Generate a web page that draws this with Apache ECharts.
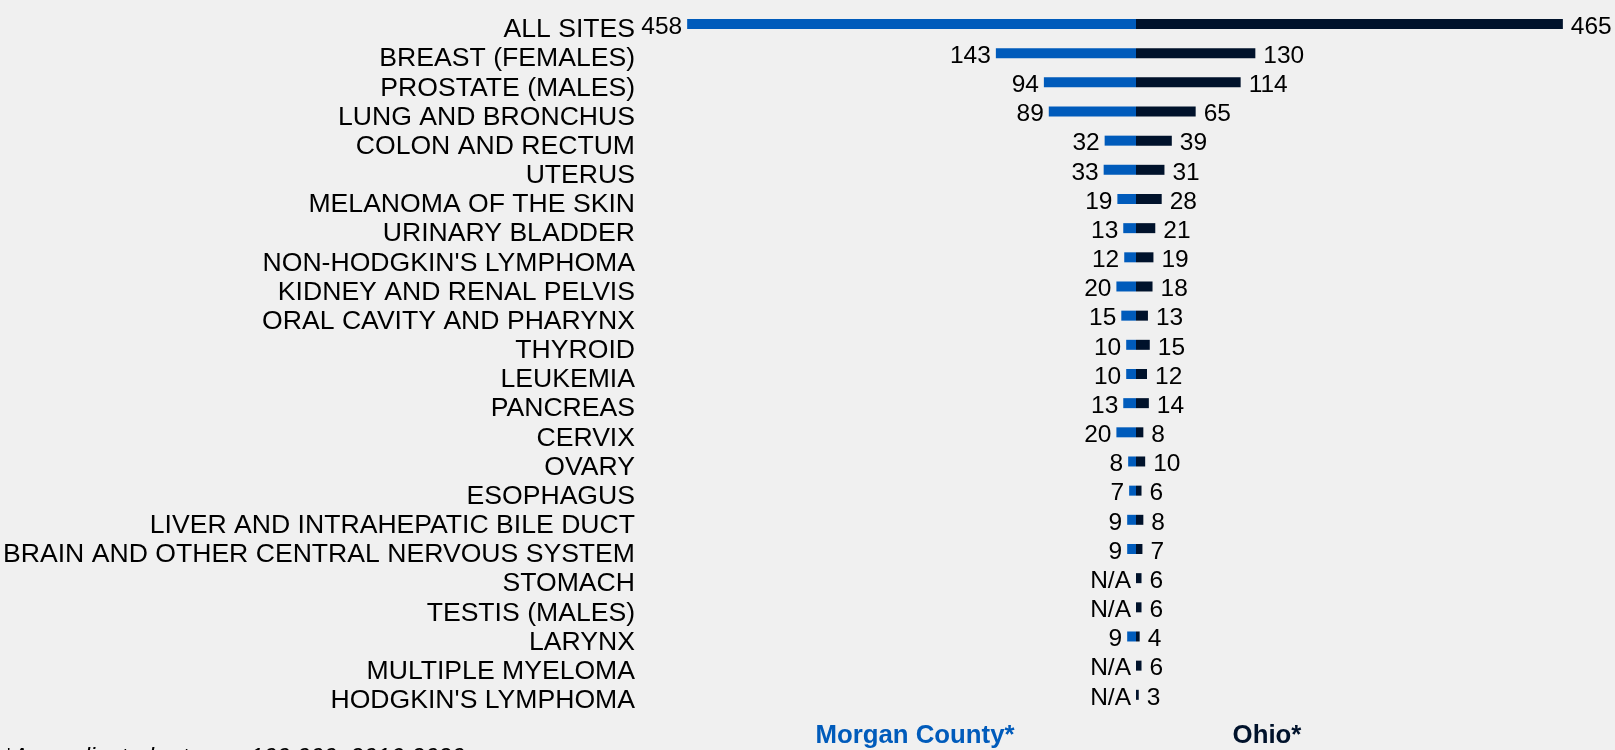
<!DOCTYPE html>
<html>
<head>
<meta charset="utf-8">
<title>Cancer incidence rates: Morgan County vs Ohio</title>
<script src="https://cdn.jsdelivr.net/npm/echarts@6/dist/echarts.min.js"></script>
<style>
  html, body { margin: 0; padding: 0; background: #f0f0f0; }
  #chart { width: 1615px; height: 750px; }
</style>
</head>
<body>
<div id="chart"></div>
<script>
// Cancer sites, top to bottom
const categories = [
  'ALL SITES', 'BREAST (FEMALES)', 'PROSTATE (MALES)', 'LUNG AND BRONCHUS',
  'COLON AND RECTUM', 'UTERUS', 'MELANOMA OF THE SKIN', 'URINARY BLADDER',
  "NON-HODGKIN'S LYMPHOMA", 'KIDNEY AND RENAL PELVIS', 'ORAL CAVITY AND PHARYNX',
  'THYROID', 'LEUKEMIA', 'PANCREAS', 'CERVIX', 'OVARY', 'ESOPHAGUS',
  'LIVER AND INTRAHEPATIC BILE DUCT', 'BRAIN AND OTHER CENTRAL NERVOUS SYSTEM',
  'STOMACH', 'TESTIS (MALES)', 'LARYNX', 'MULTIPLE MYELOMA', "HODGKIN'S LYMPHOMA"
];

// Age-adjusted rates per 100,000 (null = not available)
const morganRates = [458, 143, 94, 89, 32, 33, 19, 13, 12, 20, 15, 10, 10, 13, 20, 8, 7, 9, 9, null, null, 9, null, null];
const ohioRates   = [465, 130, 114, 65, 39, 31, 28, 21, 19, 18, 13, 15, 12, 14, 8, 10, 6, 8, 7, 6, 6, 4, 6, 3];

const seriesNames = ['Morgan County*', 'Ohio*'];
const footnote = '*Age-adjusted rate per 100,000, 2016-2020';

const COUNTY_COLOR = '#005bbb';
const STATE_COLOR = '#00122b';
const FONT = '"Liberation Sans", Arial, sans-serif';

const chart = echarts.init(document.getElementById('chart'));

const valueLabel = {
  show: true,
  fontFamily: FONT,
  fontSize: 24.5,
  color: '#000',
  offset: [0, 3]
};

const morganData = morganRates.map(v =>
  v == null ? { value: 0, label: { formatter: 'N/A' } } : v
);

const option = {
  backgroundColor: '#f0f0f0',
  animation: false,
  grid: [
    { left: 646, width: 490, top: 9.4, height: 700 },
    { left: 1136, width: 459, top: 9.4, height: 700 }
  ],
  xAxis: [
    { gridIndex: 0, type: 'value', min: 0, max: 500, inverse: true, show: false },
    { gridIndex: 1, type: 'value', min: 0, max: 500, show: false }
  ],
  yAxis: [
    {
      gridIndex: 0, type: 'category', data: categories, inverse: true,
      axisLine: { show: false }, axisTick: { show: false },
      axisLabel: {
        interval: 0, margin: 11, fontFamily: FONT, fontSize: 26.6, color: '#000',
        verticalAlign: 'top', lineHeight: 12
      }
    },
    {
      gridIndex: 1, type: 'category', data: categories, inverse: true,
      axisLine: { show: false }, axisTick: { show: false }, axisLabel: { show: false }
    }
  ],
  series: [
    {
      name: seriesNames[0], type: 'bar', xAxisIndex: 0, yAxisIndex: 0,
      data: morganData, barWidth: 10,
      itemStyle: { color: COUNTY_COLOR },
      label: Object.assign({}, valueLabel, { position: 'left', distance: 5 })
    },
    {
      name: seriesNames[1], type: 'bar', xAxisIndex: 1, yAxisIndex: 1,
      data: ohioRates, barWidth: 10,
      itemStyle: { color: STATE_COLOR },
      label: Object.assign({}, valueLabel, { position: 'right', distance: 8 })
    }
  ],
  graphic: [
    {
      type: 'text', x: 915, y: 736,
      style: {
        text: seriesNames[0], fill: COUNTY_COLOR,
        font: 'bold 25.8px ' + FONT, textAlign: 'center', textVerticalAlign: 'middle'
      }
    },
    {
      type: 'text', x: 1267, y: 736,
      style: {
        text: seriesNames[1], fill: STATE_COLOR,
        font: 'bold 25.8px ' + FONT, textAlign: 'center', textVerticalAlign: 'middle'
      }
    },
    {
      type: 'text', x: 3, y: 758,
      style: {
        text: footnote, fill: '#000',
        font: 'italic 24px ' + FONT, textAlign: 'left', textVerticalAlign: 'middle'
      }
    }
  ]
};

chart.setOption(option);
</script>
</body>
</html>
